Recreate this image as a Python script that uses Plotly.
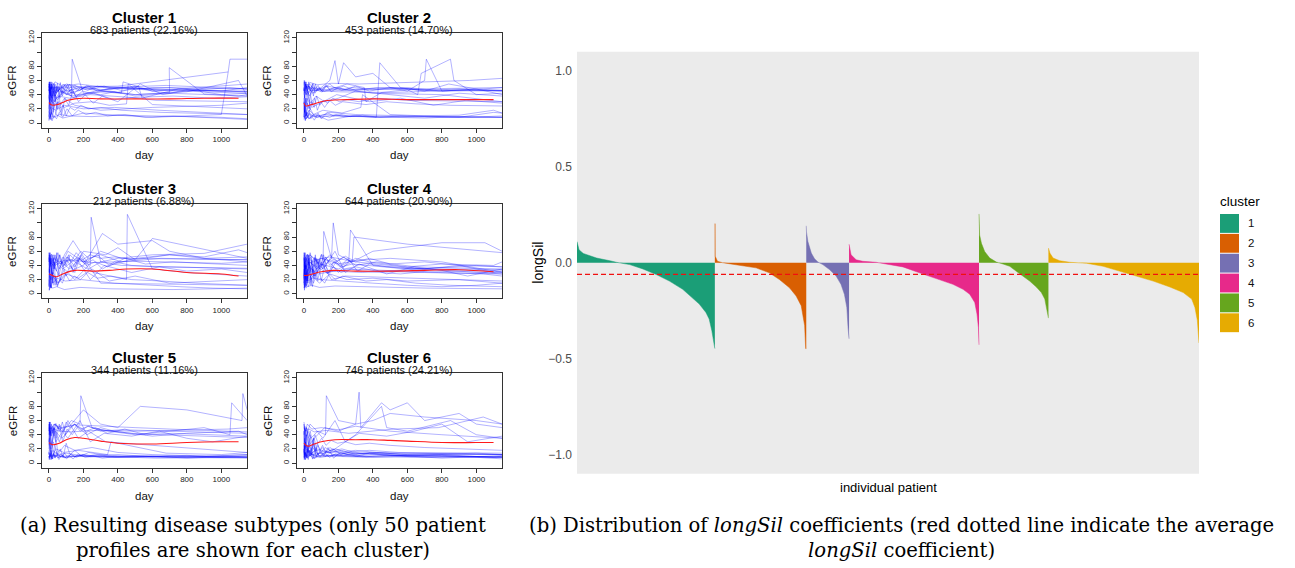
import plotly.graph_objects as go

W, H = 1295, 568

# ---------------- Left panel: eGFR trajectories ----------------
CLUSTER_SIZES = [683, 453, 212, 644, 344, 746]
CLUSTER_PCTS = ["22.16%", "14.70%", "6.88%", "20.90%", "11.16%", "24.21%"]
X_TICKS = [0, 200, 400, 600, 800, 1000]
Y_TICKS = [0, 20, 40, 60, 80, 100, 120]
Y_TICKTEXT = ["0", "20", "40", "60", "80", "", "120"]

# measurement-day grids of the densely sampled profiles
DA = [0, 5, 12, 20, 28, 36, 45, 55, 66, 78, 92, 108, 126, 150, 180, 220, 280, 380, 550, 1150]
DB = [0, 4, 10, 17, 25, 34, 45, 58, 74, 92, 114, 140, 172, 210, 256, 310, 380, 480, 620, 1150]
DC = [0, 4, 9, 15, 22, 30, 40, 52, 66, 82, 100, 122, 150, 185, 230, 300, 420, 700, 1150]
DD = [0, 6, 13, 21, 30, 40, 52, 66, 82, 100, 122, 150, 185, 230, 300, 420, 650, 1150]
DE = [0, 3, 8, 14, 21, 29, 38, 49, 62, 78, 97, 120, 148, 182, 225, 280, 360, 480, 650, 850, 1150]
DF = [0, 7, 15, 25, 36, 49, 64, 82, 103, 128, 158, 195, 240, 300, 380, 500, 700, 900, 1150]
DG = [0, 8, 18, 30, 44, 60, 80, 105, 135, 170, 215, 270, 340, 440, 560, 720, 1150]
DH = [0, 3, 7, 12, 18, 26, 35, 46, 59, 74, 92, 113, 138, 168, 205, 250, 320, 420, 600, 1150]

C1_DAYS = [
    [0, 5, 12, 20, 40, 60, 100, 150, 200, 300, 400, 500, 600, 700, 800, 900, 1000, 1150],
    [0, 3, 10, 25, 50, 80, 130, 135, 200, 350, 500, 700, 698, 900, 1100, 1150],
    [0, 8, 15, 30, 60, 120, 250, 400, 600, 800, 1000, 1040, 1050, 1150],
    [0, 10, 20, 50, 100, 200, 300, 500, 700, 900, 1150],
    [0, 5, 30, 60, 90, 150, 250, 350, 450, 460, 600, 800, 1000, 1150],
    [0, 4, 15, 40, 80, 200, 400, 700, 1000, 1150],
    [0, 7, 20, 45, 100, 160, 300, 420, 430, 600, 1150],
    [0, 2, 12, 35, 70, 110, 180, 320, 520, 540, 750, 1000, 1150],
    [0, 6, 25, 55, 120, 240, 480, 720, 960, 1150],
    [0, 10, 40, 90, 200, 380, 640, 900, 1150],
    [0, 3, 18, 36, 75, 140, 280, 500, 800, 1100, 1150],
    [0, 9, 30, 65, 130, 260, 400, 530, 660, 790, 1050, 1150],
    [0, 5, 15, 28, 50, 90, 150, 300, 600, 1000, 1150],
    [0, 12, 35, 80, 170, 340, 680, 1150],
    [0, 400, 1040],
    DA, DB, DC, DD, DE, DF, DG, DH,
]
C1_EGFR = [
    [45, 58, 35, 50, 42, 47, 40, 44, 48, 46, 43, 50, 45, 42, 47, 44, 40, 42],
    [30, 55, 20, 40, 33, 45, 38, 90, 42, 45, 40, 43, 78, 41, 38, 40],
    [10, 5, 15, 8, 12, 10, 9, 11, 8, 10, 12, 72, 90, 90],
    [52, 38, 57, 45, 55, 50, 52, 48, 50, 46, 44],
    [20, 35, 25, 30, 22, 28, 30, 25, 27, 55, 26, 24, 22, 20],
    [8, 15, 5, 12, 7, 14, 11, 10, 8, 6],
    [40, 25, 48, 35, 46, 40, 44, 42, 58, 45, 55],
    [57, 42, 50, 38, 52, 45, 50, 47, 52, 35, 48, 45, 50],
    [33, 45, 28, 38, 35, 40, 36, 38, 35, 37],
    [15, 22, 18, 25, 20, 22, 18, 15, 12],
    [48, 30, 55, 42, 50, 36, 46, 40, 44, 60, 38],
    [25, 40, 30, 45, 38, 42, 30, 55, 40, 45, 50, 48],
    [3, 50, 12, 40, 20, 35, 25, 18, 22, 25, 28],
    [55, 48, 58, 52, 55, 50, 53, 48],
    [50, 52, 72],
    [58, 40, 55, 35, 50, 30, 52, 44, 57, 38, 48, 55, 42, 50, 46, 53, 45, 50, 47, 45],
    [10, 30, 8, 45, 15, 50, 20, 40, 12, 35, 25, 45, 30, 40, 28, 38, 33, 36, 32, 30],
    [50, 58, 45, 55, 48, 56, 42, 52, 47, 55, 50, 45, 53, 48, 52, 46, 50, 47, 44],
    [25, 5, 20, 8, 28, 12, 30, 15, 25, 10, 22, 18, 25, 20, 22, 18, 15, 12],
    [45, 55, 40, 58, 38, 52, 44, 56, 40, 50, 45, 55, 42, 50, 46, 52, 48, 50, 46, 44, 42],
    [35, 48, 30, 45, 38, 50, 35, 46, 40, 48, 37, 45, 42, 40, 44, 38, 42, 40, 38],
    [5, 12, 3, 10, 6, 15, 8, 20, 10, 18, 12, 15, 10, 12, 8, 10, 5],
    [55, 45, 58, 48, 52, 40, 55, 45, 50, 42, 55, 48, 52, 45, 50, 48, 52, 46, 50, 48],
]
C1_MEAN_DAYS = [0, 10, 25, 50, 80, 110, 150, 200, 300, 500, 700, 900, 1100]
C1_MEAN_EGFR = [29, 26, 25, 26, 29, 32, 34, 35, 34, 34, 34, 35, 35]

C2_DAYS = [
    [0, 5, 20, 50, 100, 150, 180, 200, 230, 300, 400, 500, 600, 700, 710, 800, 1000, 1150],
    [0, 8, 30, 70, 150, 300, 500, 700, 900, 1150],
    [0, 3, 15, 40, 90, 200, 400, 600, 800, 1150],
    [0, 10, 30, 60, 120, 250, 350, 360, 450, 600, 660, 680, 850, 870, 1000, 1150],
    [0, 6, 25, 55, 110, 220, 330, 340, 500, 700, 900, 1100, 1150],
    [0, 4, 12, 35, 80, 160, 320, 640, 960, 1150],
    [0, 7, 18, 45, 95, 190, 380, 560, 750, 940, 1150],
    [0, 9, 28, 65, 140, 280, 420, 440, 560, 700, 840, 1000, 1150],
    [0, 5, 22, 48, 100, 200, 400, 800, 1150],
    [0, 3, 10, 30, 75, 150, 300, 600, 900, 1100, 1150],
    [0, 11, 33, 70, 130, 260, 520, 780, 1040, 1150],
    [0, 6, 16, 38, 70, 120, 200, 300, 500, 700, 900, 1150],
    [0, 8, 25, 60, 200, 500, 900, 1150],
    [0, 4, 14, 30, 60, 120, 240, 480, 960, 1150],
    DC, DD, DE, DF, DG, DH, DA,
]
C2_EGFR = [
    [58, 45, 55, 42, 50, 60, 88, 55, 85, 65, 70, 50, 45, 60, 90, 45, 48, 46],
    [10, 5, 12, 8, 10, 9, 8, 7, 9, 8],
    [50, 35, 52, 45, 48, 46, 47, 50, 45, 46],
    [40, 55, 38, 50, 45, 55, 50, 30, 43, 47, 40, 70, 90, 60, 40, 42],
    [20, 8, 25, 12, 18, 14, 22, 40, 12, 10, 8, 15, 14],
    [55, 60, 50, 57, 54, 56, 55, 58, 60, 63],
    [30, 15, 35, 22, 28, 40, 30, 35, 25, 32, 28],
    [5, 15, 6, 12, 4, 10, 8, 85, 50, 45, 55, 48, 40],
    [45, 58, 40, 50, 44, 48, 42, 40, 30],
    [12, 25, 10, 18, 8, 15, 12, 10, 11, 18, 14],
    [60, 48, 55, 45, 52, 47, 50, 45, 48, 50],
    [35, 20, 42, 28, 38, 30, 35, 45, 40, 35, 42, 38],
    [48, 40, 52, 46, 44, 43, 46, 45],
    [8, 18, 6, 14, 9, 12, 10, 9, 8, 10],
    [8, 20, 5, 15, 7, 18, 6, 12, 9, 14, 6, 10, 8, 12, 9, 10, 8, 9, 8],
    [55, 42, 58, 45, 52, 40, 56, 48, 53, 45, 50, 55, 48, 52, 46, 50, 48, 50],
    [30, 15, 35, 10, 28, 20, 40, 25, 35, 18, 30, 22, 32, 25, 30, 28, 26, 30, 27, 25, 24],
    [45, 58, 40, 52, 48, 55, 42, 50, 46, 54, 44, 50, 47, 52, 45, 50, 46, 48, 45],
    [12, 3, 15, 6, 10, 4, 12, 8, 15, 10, 12, 9, 11, 8, 10, 9, 8],
    [20, 40, 15, 35, 25, 45, 18, 30, 22, 38, 25, 32, 28, 35, 30, 33, 30, 35, 32, 30],
    [50, 35, 55, 42, 58, 45, 52, 38, 55, 47, 50, 44, 52, 48, 50, 46, 50, 48, 47, 46],
]
C2_MEAN_DAYS = [0, 10, 30, 60, 100, 150, 250, 400, 600, 800, 1000, 1100]
C2_MEAN_EGFR = [28, 24, 25, 27, 30, 32, 33, 34, 33, 33, 33, 33]

C3_DAYS = [
    [0, 5, 15, 35, 70, 120, 180, 240, 245, 300, 400, 600, 900, 1150],
    [0, 8, 25, 50, 100, 200, 310, 400, 600, 700, 900, 1150],
    [0, 3, 12, 30, 60, 130, 260, 450, 455, 600, 800, 1150],
    [0, 6, 20, 45, 90, 180, 360, 720, 1150],
    [0, 10, 30, 60, 110, 200, 280, 350, 500, 700, 900, 1100, 1150],
    [0, 4, 18, 40, 80, 160, 240, 320, 480, 640, 800, 1000, 1150],
    [0, 7, 22, 48, 95, 190, 380, 570, 760, 950, 1150],
    [0, 5, 15, 35, 65, 110, 150, 200, 330, 400, 500, 600, 1150],
    [0, 9, 28, 55, 120, 250, 500, 1000, 1150],
    [0, 3, 10, 25, 55, 100, 170, 250, 350, 500, 700, 1150],
    [0, 6, 20, 50, 90, 140, 220, 300, 420, 1150],
    [0, 4, 12, 26, 50, 90, 150, 230, 300, 1150],
    DB, DC, DD, DE, DF, DG,
]
C3_EGFR = [
    [55, 30, 50, 40, 45, 35, 50, 40, 108, 45, 50, 55, 57, 70],
    [20, 10, 25, 15, 30, 40, 85, 70, 75, 60, 50, 45],
    [45, 55, 38, 50, 42, 48, 30, 20, 112, 35, 30, 25],
    [5, 12, 8, 10, 6, 9, 7, 6, 8],
    [58, 40, 52, 35, 60, 45, 55, 40, 50, 55, 52, 62, 58],
    [30, 50, 25, 45, 35, 50, 20, 40, 30, 38, 32, 35, 30],
    [12, 25, 15, 22, 18, 20, 15, 12, 10, 8, 7],
    [40, 58, 35, 55, 42, 52, 38, 60, 55, 65, 48, 78, 50],
    [50, 42, 55, 45, 48, 44, 46, 43, 45],
    [25, 35, 20, 30, 15, 28, 22, 35, 18, 25, 15, 20],
    [35, 22, 42, 30, 55, 75, 45, 60, 50, 48],
    [10, 30, 8, 25, 12, 35, 20, 40, 15, 12],
    [58, 30, 55, 20, 50, 35, 58, 25, 45, 40, 55, 30, 50, 42, 48, 35, 45, 40, 38, 36],
    [10, 40, 8, 35, 15, 45, 12, 30, 20, 38, 25, 40, 30, 55, 35, 45, 40, 38, 35],
    [45, 58, 42, 55, 40, 50, 58, 45, 52, 40, 55, 48, 60, 50, 55, 45, 50, 48],
    [25, 5, 22, 8, 30, 12, 25, 10, 20, 15, 28, 18, 25, 20, 30, 22, 25, 20, 18, 15, 12],
    [52, 40, 56, 35, 50, 45, 55, 38, 52, 45, 58, 48, 55, 50, 52, 48, 55, 50, 52],
    [35, 50, 28, 45, 32, 55, 38, 48, 35, 52, 40, 45, 38, 50, 42, 45, 40],
]
C3_MEAN_DAYS = [0, 20, 45, 80, 150, 250, 350, 450, 600, 800, 1000, 1100]
C3_MEAN_EGFR = [28, 26, 24, 28, 33, 32, 33, 35, 35, 30, 28, 25]

C4_DAYS = [
    [0, 5, 15, 40, 80, 110, 115, 160, 170, 200, 280, 290, 600, 1000, 1150],
    [0, 8, 25, 55, 100, 200, 400, 800, 1050, 1150],
    [0, 3, 12, 30, 60, 130, 200, 260, 270, 400, 700, 1000, 1150],
    [0, 6, 20, 45, 90, 180, 360, 720, 1150],
    [0, 10, 30, 70, 150, 300, 500, 700, 900, 1100, 1150],
    [0, 4, 14, 35, 75, 150, 220, 300, 380, 600, 800, 1100, 1150],
    [0, 7, 22, 50, 100, 200, 400, 600, 800, 1000, 1150],
    [0, 5, 15, 35, 65, 110, 180, 240, 320, 480, 640, 800, 950, 1150],
    [0, 9, 28, 60, 130, 260, 520, 780, 1040, 1150],
    [0, 3, 10, 25, 50, 90, 150, 250, 400, 600, 900, 1150],
    [0, 6, 18, 42, 85, 170, 340, 680, 1000, 1150],
    [0, 8, 20, 45, 100, 200, 300, 500, 800, 1150],
    [0, 4, 12, 28, 55, 100, 160, 240, 1150],
    DB, DC, DD, DE, DF, DG, DA,
]
C4_EGFR = [
    [55, 30, 50, 35, 45, 40, 88, 50, 100, 55, 45, 80, 70, 62, 58],
    [40, 20, 45, 30, 42, 35, 60, 72, 72, 60],
    [20, 45, 15, 38, 25, 50, 30, 45, 90, 40, 35, 30, 28],
    [8, 15, 10, 12, 9, 11, 10, 8, 7],
    [58, 45, 55, 48, 52, 45, 40, 35, 40, 30, 32],
    [30, 50, 25, 45, 35, 55, 40, 50, 45, 38, 42, 40, 45],
    [15, 25, 18, 22, 20, 18, 15, 12, 10, 12, 15],
    [45, 58, 40, 55, 48, 35, 60, 30, 42, 28, 38, 33, 25, 35],
    [50, 35, 45, 40, 30, 35, 32, 30, 28, 25],
    [35, 5, 30, 10, 25, 15, 28, 20, 22, 18, 20, 15],
    [25, 40, 22, 35, 28, 32, 30, 35, 40, 38],
    [52, 38, 56, 44, 50, 42, 47, 50, 45, 30],
    [12, 40, 8, 30, 15, 45, 20, 25, 18],
    [58, 25, 52, 18, 55, 30, 48, 22, 50, 35, 55, 28, 45, 38, 50, 32, 42, 38, 35, 32],
    [15, 45, 10, 40, 20, 50, 12, 35, 25, 48, 18, 40, 30, 45, 35, 38, 32, 30, 28],
    [40, 58, 35, 55, 45, 52, 30, 50, 42, 55, 38, 48, 45, 52, 40, 45, 38, 35],
    [30, 8, 28, 12, 35, 15, 25, 10, 30, 18, 22, 15, 28, 20, 25, 22, 18, 20, 15, 12, 10],
    [50, 35, 55, 40, 58, 45, 52, 38, 56, 42, 50, 46, 53, 45, 50, 42, 45, 40, 38],
    [22, 40, 18, 45, 25, 50, 20, 42, 28, 38, 30, 35, 32, 30, 28, 32, 30],
    [45, 10, 40, 15, 50, 20, 45, 25, 55, 30, 48, 35, 52, 40, 45, 38, 42, 40, 36, 34],
]
C4_MEAN_DAYS = [0, 20, 50, 100, 170, 300, 500, 700, 900, 1100]
C4_MEAN_EGFR = [26, 26, 28, 31, 33, 32, 32, 33, 34, 31]

C5_DAYS = [
    [0, 5, 15, 40, 80, 130, 180, 185, 250, 350, 500, 700, 900, 1050, 1060, 1150],
    [0, 8, 25, 55, 100, 200, 400, 600, 800, 1000, 1150],
    [0, 3, 12, 30, 60, 120, 200, 300, 400, 530, 800, 1000, 1120, 1125, 1150],
    [0, 6, 20, 45, 90, 180, 360, 720, 1150],
    [0, 10, 30, 70, 150, 300, 500, 700, 900, 1100, 1150],
    [0, 4, 14, 35, 75, 150, 220, 300, 380, 600, 800, 1100, 1150],
    [0, 7, 22, 50, 100, 200, 400, 600, 800, 1000, 1150],
    [0, 5, 15, 35, 65, 110, 180, 240, 320, 480, 640, 800, 950, 1150],
    [0, 9, 28, 60, 130, 260, 520, 780, 1040, 1150],
    [0, 3, 10, 25, 50, 90, 150, 250, 400, 600, 900, 1150],
    [0, 6, 18, 42, 85, 170, 340, 360, 680, 1000, 1150],
    [0, 8, 20, 45, 100, 200, 300, 500, 800, 1150],
    [0, 4, 12, 30, 60, 110, 170, 230, 330, 1150],
    DB, DC, DD, DE, DF, DG, DA,
]
C5_EGFR = [
    [55, 25, 50, 30, 45, 60, 55, 95, 50, 45, 40, 45, 50, 40, 85, 60],
    [10, 5, 12, 8, 10, 9, 8, 10, 7, 9, 10],
    [45, 58, 40, 55, 48, 52, 75, 55, 50, 80, 75, 65, 60, 98, 75],
    [7, 12, 9, 11, 8, 10, 9, 8, 12],
    [58, 48, 55, 50, 54, 52, 50, 48, 46, 45, 44],
    [30, 50, 25, 45, 35, 55, 40, 50, 45, 38, 42, 45, 40],
    [15, 8, 18, 12, 14, 10, 12, 9, 11, 8, 10],
    [40, 52, 38, 55, 48, 35, 60, 30, 42, 38, 45, 35, 30, 38],
    [50, 42, 48, 45, 44, 46, 45, 47, 48, 50],
    [20, 35, 15, 30, 12, 25, 18, 22, 15, 12, 10, 8],
    [12, 25, 10, 20, 15, 18, 12, 30, 14, 12, 15],
    [5, 14, 6, 11, 8, 12, 9, 10, 8, 12],
    [25, 55, 20, 50, 30, 60, 35, 45, 30, 15],
    [10, 5, 12, 6, 14, 8, 10, 5, 12, 7, 11, 6, 13, 8, 10, 7, 9, 8, 7, 8],
    [55, 40, 58, 45, 52, 38, 56, 48, 53, 45, 58, 50, 55, 48, 52, 45, 47, 45, 42],
    [12, 30, 8, 25, 10, 35, 15, 20, 8, 28, 12, 18, 10, 15, 12, 10, 9, 8],
    [45, 58, 38, 55, 42, 50, 35, 52, 45, 58, 40, 50, 55, 45, 52, 48, 45, 42, 40, 38, 36],
    [8, 15, 5, 12, 7, 14, 9, 11, 6, 13, 8, 12, 9, 10, 8, 9, 10, 8, 7],
    [30, 45, 25, 50, 35, 55, 30, 48, 40, 52, 45, 50, 42, 48, 40, 42, 38],
    [15, 8, 18, 6, 12, 9, 16, 7, 13, 10, 14, 8, 12, 9, 11, 10, 12, 9, 10, 9],
]
C5_MEAN_DAYS = [0, 20, 60, 100, 150, 200, 300, 400, 600, 800, 1000, 1100]
C5_MEAN_EGFR = [29, 26, 28, 33, 36, 35, 31, 28, 27, 29, 30, 30]

C6_DAYS = [
    [0, 5, 15, 40, 80, 125, 130, 200, 300, 320, 330, 450, 500, 600, 700, 800, 900, 1000, 1150],
    [0, 8, 25, 55, 100, 200, 400, 600, 800, 1000, 1150],
    [0, 3, 12, 30, 60, 120, 200, 300, 400, 500, 700, 1000, 1150],
    [0, 6, 20, 45, 90, 180, 360, 720, 1150],
    [0, 10, 30, 70, 150, 300, 450, 480, 600, 850, 1000, 1150],
    [0, 4, 14, 35, 75, 150, 220, 300, 380, 600, 800, 1100, 1150],
    [0, 7, 22, 50, 100, 200, 400, 600, 800, 1000, 1150],
    [0, 5, 15, 35, 65, 110, 180, 240, 320, 480, 640, 800, 950, 1150],
    [0, 9, 28, 60, 130, 260, 520, 780, 1040, 1150],
    [0, 3, 10, 25, 50, 90, 150, 250, 400, 600, 900, 1150],
    [0, 6, 18, 42, 85, 170, 340, 680, 1000, 1150],
    [0, 8, 20, 45, 100, 200, 300, 500, 800, 1150],
    [0, 4, 12, 26, 50, 90, 140, 220, 1150],
    DB, DC, DD, DE, DF, DG, DA,
]
C6_EGFR = [
    [55, 30, 50, 35, 45, 40, 95, 60, 55, 100, 50, 85, 75, 85, 60, 65, 70, 55, 50],
    [10, 5, 12, 8, 10, 9, 8, 10, 7, 9, 10],
    [45, 20, 40, 25, 35, 50, 45, 55, 60, 70, 65, 60, 55],
    [7, 15, 9, 12, 8, 11, 9, 8, 10],
    [15, 25, 12, 18, 15, 40, 80, 50, 45, 60, 40, 35],
    [30, 8, 25, 12, 20, 15, 18, 12, 14, 10, 12, 8, 10],
    [20, 10, 18, 12, 14, 16, 12, 10, 11, 8, 6],
    [40, 52, 38, 55, 48, 35, 60, 30, 42, 38, 45, 55, 30, 38],
    [50, 45, 48, 44, 46, 42, 48, 50, 65, 55],
    [25, 12, 30, 15, 22, 10, 18, 12, 15, 12, 10, 8],
    [5, 15, 7, 12, 10, 11, 9, 12, 14, 12],
    [58, 45, 55, 48, 50, 47, 52, 45, 40, 35],
    [12, 35, 8, 20, 6, 15, 10, 14, 12],
    [10, 25, 8, 20, 5, 18, 12, 28, 8, 15, 10, 22, 7, 15, 12, 10, 14, 11, 9, 8],
    [20, 5, 15, 8, 25, 10, 18, 6, 22, 12, 16, 9, 14, 11, 13, 10, 12, 10, 9],
    [45, 20, 40, 15, 35, 12, 30, 18, 25, 15, 22, 18, 20, 16, 18, 15, 14, 12],
    [8, 15, 5, 12, 7, 18, 10, 14, 6, 12, 9, 15, 8, 13, 10, 12, 9, 11, 10, 9, 8],
    [55, 40, 50, 35, 45, 30, 40, 28, 35, 25, 32, 28, 30, 26, 28, 25, 22, 20, 18],
    [15, 30, 10, 25, 18, 35, 12, 22, 15, 20, 12, 16, 14, 15, 12, 13, 12],
    [30, 50, 25, 45, 20, 40, 15, 35, 12, 28, 18, 25, 15, 22, 18, 20, 16, 18, 15, 14],
]
C6_MEAN_DAYS = [0, 20, 60, 100, 180, 300, 400, 500, 600, 800, 1000, 1100]
C6_MEAN_EGFR = [28, 24, 27, 30, 33, 33, 33, 32, 31, 29, 29, 29]

# ---------------- Right panel: longSil coefficients ----------------
CLUSTER_LABELS = ["1", "2", "3", "4", "5", "6"]
CLUSTER_COLORS = ["#1B9E77", "#D95F02", "#7570B3", "#E7298A", "#66A61E", "#E6AB02"]
AVG_SIL = -0.061

SIL1_RANK = [0, 10, 31, 64, 97, 163, 195, 261, 327, 393, 458, 524, 573, 606, 639, 655, 668, 676, 682, 683]
SIL1_VAL = [0.11, 0.067, 0.048, 0.036, 0.024, 0.010, 0.002, -0.01, -0.033, -0.062, -0.096, -0.139,
            -0.182, -0.216, -0.26, -0.294, -0.354, -0.405, -0.448, -0.448]
SIL2_RANK = [0, 1.5, 2, 13, 38, 71, 138, 204, 270, 320, 370, 403, 428, 445, 450, 453]
SIL2_VAL = [0.203, 0.203, 0.033, 0.007, 0.0, -0.005, -0.015, -0.027, -0.053, -0.088, -0.131,
            -0.174, -0.225, -0.328, -0.448, -0.448]
SIL3_RANK = [0, 1, 8, 25, 41, 58, 82, 115, 148, 172, 189, 201, 207, 210, 212]
SIL3_VAL = [0.192, 0.16, 0.11, 0.05, 0.02, 0.003, -0.01, -0.036, -0.07, -0.113, -0.165, -0.234,
            -0.337, -0.397, -0.397]
SIL4_RANK = [0, 10, 35, 68, 134, 200, 267, 349, 432, 515, 565, 598, 623, 634, 641, 643, 644]
SIL4_VAL = [0.096, 0.041, 0.015, 0.007, 0.002, -0.01, -0.022, -0.053, -0.082, -0.113, -0.139,
            -0.165, -0.208, -0.268, -0.337, -0.428, -0.428]
SIL5_RANK = [0, 1.5, 3, 12, 28, 53, 86, 119, 152, 185, 218, 251, 284, 309, 326, 334, 342, 344]
SIL5_VAL = [0.254, 0.2, 0.144, 0.101, 0.058, 0.024, 0.003, -0.007, -0.019, -0.045, -0.07, -0.096,
            -0.127, -0.156, -0.19, -0.234, -0.289, -0.289]
SIL6_RANK = [0, 7, 23, 56, 106, 189, 271, 354, 437, 519, 602, 668, 710, 726, 738, 745, 746]
SIL6_VAL = [0.076, 0.05, 0.024, 0.01, 0.002, -0.003, -0.019, -0.045, -0.07, -0.096, -0.127,
            -0.156, -0.19, -0.234, -0.302, -0.419, -0.419]
Y_SIL_TICKS = [-1.0, -0.5, 0.0, 0.5, 1.0]
Y_SIL_TICKTEXT = ["\u22121.0", "\u22120.5", "0.0", "0.5", "1.0"]

ALL_DAYS = [C1_DAYS, C2_DAYS, C3_DAYS, C4_DAYS, C5_DAYS, C6_DAYS]
ALL_EGFR = [C1_EGFR, C2_EGFR, C3_EGFR, C4_EGFR, C5_EGFR, C6_EGFR]
ALL_MEAN_DAYS = [C1_MEAN_DAYS, C2_MEAN_DAYS, C3_MEAN_DAYS, C4_MEAN_DAYS, C5_MEAN_DAYS, C6_MEAN_DAYS]
ALL_MEAN_EGFR = [C1_MEAN_EGFR, C2_MEAN_EGFR, C3_MEAN_EGFR, C4_MEAN_EGFR, C5_MEAN_EGFR, C6_MEAN_EGFR]
SIL_RANKS = [SIL1_RANK, SIL2_RANK, SIL3_RANK, SIL4_RANK, SIL5_RANK, SIL6_RANK]
SIL_VALS = [SIL1_VAL, SIL2_VAL, SIL3_VAL, SIL4_VAL, SIL5_VAL, SIL6_VAL]


def fx(px):
    return px / W


def fy(py):
    return 1 - py / H


SANS = "Liberation Sans, Arial, sans-serif"
SERIF = "DejaVu Serif, serif"

fig = go.Figure()
layout = {}
annotations = []
shapes = []

COL_LEFT = [41.7, 296.7]
COL_W = 205.3
ROW_TOP = [29.5, 201.5, 372.0]
ROW_H = 95.0

for i in range(6):
    r, c = divmod(i, 2)
    xa = "x" if i == 0 else f"x{i+1}"
    ya = "y" if i == 0 else f"y{i+1}"
    for d, e in zip(ALL_DAYS[i], ALL_EGFR[i]):
        fig.add_trace(go.Scatter(x=d, y=e, mode="lines",
                                 line=dict(color="rgba(0,0,255,0.3)", width=1),
                                 xaxis=xa, yaxis=ya, showlegend=False, hoverinfo="skip"))
    fig.add_trace(go.Scatter(x=ALL_MEAN_DAYS[i], y=ALL_MEAN_EGFR[i], mode="lines",
                             line=dict(color="#FF1A1A", width=1.1, shape="spline"),
                             xaxis=xa, yaxis=ya, showlegend=False, hoverinfo="skip"))
    x0 = COL_LEFT[c]
    x1 = x0 + COL_W
    top = ROW_TOP[r]
    bot = top + ROW_H
    key = "" if i == 0 else str(i + 1)
    layout["xaxis" + key] = dict(
        domain=[fx(x0), fx(x1)], anchor=ya, range=[-42, 1149],
        tickvals=X_TICKS, ticks="outside", ticklen=4, tickcolor="#333",
        tickfont=dict(family=SANS, size=8, color="#222"),
        showline=True, mirror=True, linecolor="#333", linewidth=1,
        showgrid=False, zeroline=False)
    layout["yaxis" + key] = dict(
        domain=[fy(bot), fy(top)], anchor=xa, range=[-6.5, 126.5],
        tickvals=Y_TICKS, ticktext=Y_TICKTEXT, tickangle=-90,
        ticks="outside", ticklen=4, tickcolor="#333",
        tickfont=dict(family=SANS, size=8, color="#222"),
        showline=True, mirror=True, linecolor="#333", linewidth=1,
        showgrid=False, zeroline=False)
    cx = (x0 + x1) / 2
    annotations.append(dict(text=f"<b>Cluster {i+1}</b>", x=fx(cx), y=fy(top - 16),
                            xref="paper", yref="paper", showarrow=False,
                            xanchor="center", yanchor="middle",
                            font=dict(family=SANS, size=15, color="#000")))
    annotations.append(dict(text=f"{CLUSTER_SIZES[i]} patients ({CLUSTER_PCTS[i]})",
                            x=fx(cx), y=fy(top - 3), xref="paper", yref="paper",
                            showarrow=False, xanchor="center", yanchor="middle",
                            font=dict(family=SANS, size=11, color="#111")))
    annotations.append(dict(text="day", x=fx(cx), y=fy(bot + 28), xref="paper", yref="paper",
                            showarrow=False, xanchor="center", yanchor="middle",
                            font=dict(family=SANS, size=11.5, color="#111")))
    annotations.append(dict(text="eGFR", x=fx(x0 - 29), y=fy((top + bot) / 2),
                            xref="paper", yref="paper", showarrow=False, textangle=-90,
                            xanchor="center", yanchor="middle",
                            font=dict(family=SANS, size=11.5, color="#111")))

# Right panel
offset = 0
for k in range(6):
    xs = [offset + v for v in SIL_RANKS[k]]
    fig.add_trace(go.Scatter(x=xs, y=SIL_VALS[k], mode="lines", fill="tozeroy",
                             fillcolor=CLUSTER_COLORS[k],
                             line=dict(color=CLUSTER_COLORS[k], width=0.5),
                             xaxis="x7", yaxis="y7", showlegend=False, hoverinfo="skip"))
    offset += CLUSTER_SIZES[k]
TOTAL = offset
fig.add_trace(go.Scatter(x=[0, TOTAL], y=[AVG_SIL, AVG_SIL], mode="lines",
                         line=dict(color="#F01010", width=1.2, dash="5px,3px"),
                         xaxis="x7", yaxis="y7", showlegend=False, hoverinfo="skip"))

RX0, RX1, RY0, RY1 = 577, 1199, 48, 473
layout["xaxis7"] = dict(domain=[fx(RX0), fx(RX1)], anchor="y7", range=[0, TOTAL],
                        showticklabels=False, ticks="", showgrid=False, zeroline=False,
                        showline=False)
layout["yaxis7"] = dict(domain=[fy(RY1), fy(RY0)], anchor="x7", range=[-1.1, 1.1],
                        tickvals=Y_SIL_TICKS, ticktext=Y_SIL_TICKTEXT, ticks="",
                        ticklabelstandoff=4,
                        tickfont=dict(family=SANS, size=12, color="#4D4D4D"),
                        showgrid=False, zeroline=False, showline=False)
shapes.append(dict(type="rect", xref="x7 domain", yref="y7 domain", x0=0, x1=1, y0=0, y1=1,
                   fillcolor="#EBEBEB", line=dict(width=0), layer="below"))

annotations.append(dict(text="longSil", x=fx(538), y=fy((RY0 + RY1) / 2), xref="paper",
                        yref="paper", showarrow=False, textangle=-90, xanchor="center",
                        yanchor="middle", font=dict(family=SANS, size=14, color="#000")))
annotations.append(dict(text="individual patient", x=fx((RX0 + RX1) / 2), y=fy(487),
                        xref="paper", yref="paper", showarrow=False, xanchor="center",
                        yanchor="middle", font=dict(family=SANS, size=13, color="#000")))

# Legend (ggplot style)
annotations.append(dict(text="cluster", x=fx(1218), y=fy(199), xref="paper", yref="paper",
                        showarrow=False, xanchor="left", yanchor="middle",
                        font=dict(family=SANS, size=13.5, color="#000")))
for k in range(6):
    t = 211.5 + 20 * k
    shapes.append(dict(type="rect", xref="paper", yref="paper",
                       x0=fx(1220), x1=fx(1239), y0=fy(t + 19), y1=fy(t),
                       fillcolor=CLUSTER_COLORS[k], line=dict(width=0)))
    annotations.append(dict(text=CLUSTER_LABELS[k], x=fx(1246), y=fy(t + 9.5), xref="paper",
                            yref="paper", showarrow=False, xanchor="left", yanchor="middle",
                            font=dict(family=SANS, size=11.5, color="#111")))

# Captions
annotations.append(dict(text="(a) Resulting disease subtypes (only 50 patient<br>profiles are shown for each cluster)",
                        x=fx(253), y=fy(538), xref="paper", yref="paper", showarrow=False,
                        xanchor="center", yanchor="middle", align="center",
                        font=dict(family=SERIF, size=19.6, color="#000")))
annotations.append(dict(text="(b) Distribution of <i>longSil</i> coefficients (red dotted line indicate the average<br><i>longSil</i> coefficient)",
                        x=fx(901), y=fy(538), xref="paper", yref="paper", showarrow=False,
                        xanchor="center", yanchor="middle", align="center",
                        font=dict(family=SERIF, size=19.6, color="#000")))

fig.update_layout(
    width=W, height=H, margin=dict(l=0, r=0, t=0, b=0),
    paper_bgcolor="white", plot_bgcolor="rgba(0,0,0,0)",
    showlegend=False, annotations=annotations, shapes=shapes, **layout)

fig.write_html("out.html", config={"displayModeBar": False},
               post_script="document.body.style.margin='0';")
